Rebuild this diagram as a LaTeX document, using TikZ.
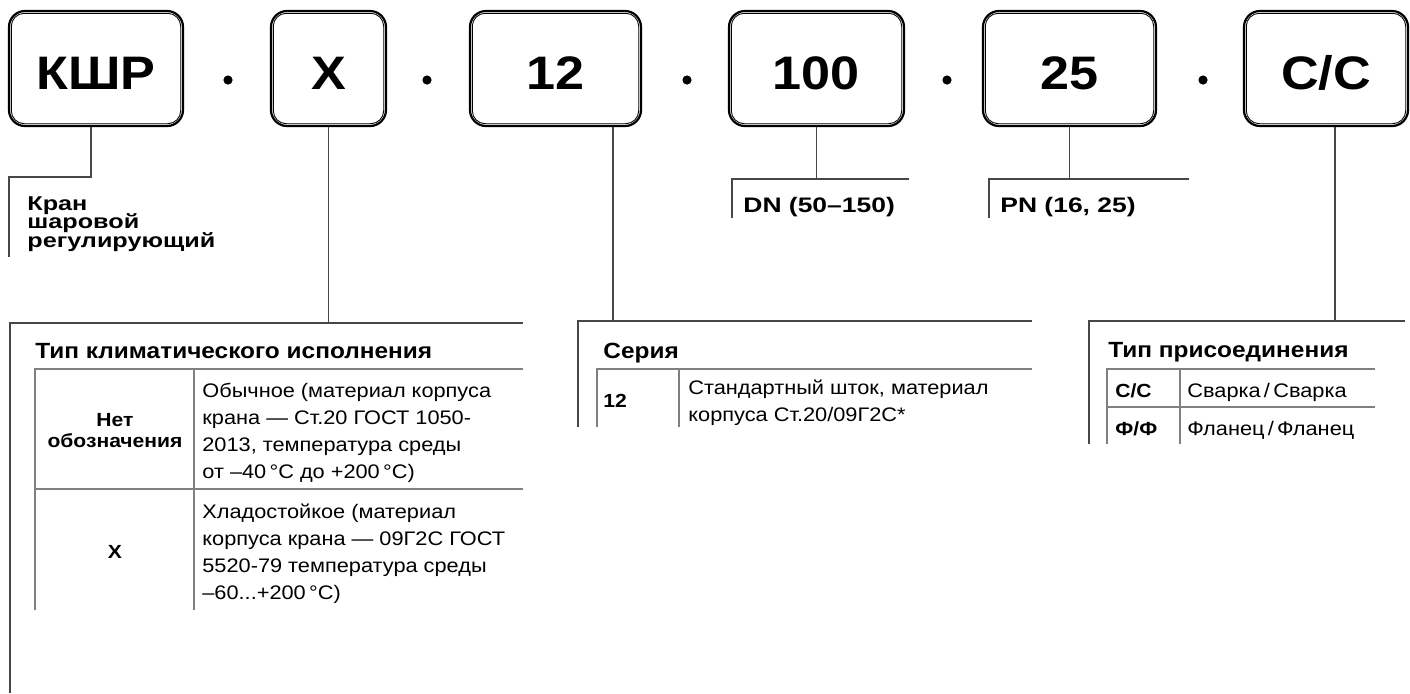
\documentclass[tikz,border=0pt]{standalone}
\usepackage{fontspec}
\setmainfont{Liberation Sans}[FakeStretch=1.11]
\newfontfamily\widebold[FakeStretch=1.26]{Liberation Sans}
\usetikzlibrary{positioning}
\newcommand{\bodyfont}{\fontsize{9.8}{13.5}\selectfont}
\newcommand{\cellfont}{\fontsize{9.5}{10.5}\selectfont\bfseries}
\newcommand{\headfont}{\fontsize{11}{13}\selectfont\bfseries}
\newcommand{\notefont}{\widebold\fontsize{10}{9.25}\selectfont\bfseries\lineskiplimit=-10pt}
\tikzset{
    codebox/.style={draw, line width=1.1pt, rounded corners=8pt, minimum height=57.5pt,
        inner sep=0pt, text height=20.5pt, text depth=0pt,
        font=\fontsize{23.5}{28}\selectfont\bfseries},
    sepdot/.style={circle, fill, inner sep=0pt, minimum size=4.6pt},
    lead/.style={draw=black!72, line width=0.6pt},
    tabline/.style={draw=black!50, line width=0.6pt},
    txt/.style={inner sep=0pt, anchor=base west, align=left},
}
\begin{document}
\begin{tikzpicture}[x=0.5pt,y=-0.5pt]
            \useasboundingbox (0,0) rectangle (1410,693);
            % code boxes and separating dots
            \node[codebox, minimum width=87pt] (k1) at (96,68.5) {КШР};
            \node[codebox, minimum width=57.5pt] (k2) at (328.5,68.5) {Х};
            \node[codebox, minimum width=85.5pt] (k3) at (555.5,68.5) {12};
            \node[codebox, minimum width=87.5pt] (k4) at (816.5,68.5) {100};
            \node[codebox, minimum width=86.5pt] (k5) at (1069.5,68.5) {25};
            \node[codebox, minimum width=82pt] (k6) at (1326,68.5) {С/С};
            \foreach \k in {k1,k2,k3,k4,k5,k6}
                \draw[line width=0.45pt, rounded corners=6.5pt] ([shift={(1.7pt,-1.7pt)}]\k.north west) rectangle ([shift={(-1.7pt,1.7pt)}]\k.south east);
            \node[sepdot] (d1) at (228,80) {};
            \node[sepdot] (d2) at (427,80) {};
            \node[sepdot] (d3) at (687,80) {};
            \node[sepdot] (d4) at (947,80) {};
            \node[sepdot] (d5) at (1203,80) {};

            % leaders
            \coordinate (a1) at (9,177);
            \coordinate (a2) at (9,257);
            \draw[lead] ([xshift=-2.5pt]k1.south) |- (a1) -- (a2);
            \coordinate (b1) at (10,323);
            \coordinate (b2) at (10,693);
            \coordinate (b3) at (523,323);
            \draw[lead] (k2.south) |- (b1) -- (b2);
            \draw[lead] (b1) -- (b3);
            \coordinate (c1) at (578,321);
            \coordinate (c2) at (578,427);
            \coordinate (c3) at (1032,321);
            \draw[lead] ([xshift=28.75pt]k3.south) |- (c1) -- (c2);
            \draw[lead] (c1) -- (c3);
            \coordinate (dn1) at (732,179);
            \coordinate (dn2) at (732,218);
            \coordinate (dn3) at (909,179);
            \draw[lead] (k4.south) |- (dn1) -- (dn2);
            \draw[lead] (dn1) -- (dn3);
            \coordinate (pn1) at (989,179);
            \coordinate (pn2) at (989,218);
            \coordinate (pn3) at (1189,179);
            \draw[lead] (k5.south) |- (pn1) -- (pn2);
            \draw[lead] (pn1) -- (pn3);
            \coordinate (t1) at (1089,321);
            \coordinate (t2) at (1089,444);
            \coordinate (t3) at (1405,321);
            \draw[lead] ([xshift=4.5pt]k6.south) |- (t1) -- (t2);
            \draw[lead] (t1) -- (t3);

            % short labels
            \node[txt, font=\notefont] (kran) at (27,247) {Кран\\шаровой\\регулирующий};
            \node[txt, font=\widebold\fontsize{10.5}{12}\selectfont\bfseries] (dn) at (743,212) {DN (50–150)};
            \node[txt, font=\widebold\fontsize{10.5}{12}\selectfont\bfseries] (pn) at (1000,212) {PN (16, 25)};

            % climate table
            \node[txt, font=\headfont] (clim) at (35,358) {Тип климатического исполнения};
            \draw[tabline] (35,610) -- (35,369) -- (523,369);
            \draw[tabline] (35,489) -- (523,489);
            \draw[tabline] (194,369) -- (194,610);
            \node[font=\cellfont, align=center, inner sep=0pt] (none) at (115,431) {Нет\\обозначения};
            \node[font=\cellfont, inner sep=0pt] (xcode) at (115,552) {Х};
            \node[txt, font=\bodyfont] (usual) at (202,478) {Обычное (материал корпуса\\крана — Ст.20 ГОСТ 1050-\\2013, температура среды\\от –40\,°С до +200\,°С)};
            \node[txt, font=\bodyfont] (cold) at (202,599) {Хладостойкое (материал\\корпуса крана — 09Г2С ГОСТ\\5520-79 температура среды\\–60...+200\,°С)};

            % series table
            \node[txt, font=\headfont] (ser) at (603,358) {Серия};
            \draw[tabline] (597,427) -- (597,369) -- (1032,369);
            \draw[tabline] (679,369) -- (679,427);
            \node[txt, font=\cellfont] (s12) at (603,407) {12};
            \node[txt, font=\bodyfont] (stem) at (688,421) {Стандартный шток, материал\\корпуса Ст.20/09Г2С*};

            % connection table
            \node[txt, font=\headfont] (conn) at (1108,357) {Тип присоединения};
            \draw[tabline] (1107,444) -- (1107,369) -- (1375,369);
            \draw[tabline] (1107,407) -- (1375,407);
            \draw[tabline] (1180,369) -- (1180,444);
            \node[txt, font=\cellfont] (cc) at (1115,397) {С/С};
            \node[txt, font=\cellfont] (ff) at (1115,435) {Ф/Ф};
            \node[txt, font=\bodyfont] (weld) at (1187,397) {Сварка\,/\,Сварка};
            \node[txt, font=\bodyfont] (flan) at (1187,435) {Фланец\,/\,Фланец};
\end{tikzpicture}
\end{document}
